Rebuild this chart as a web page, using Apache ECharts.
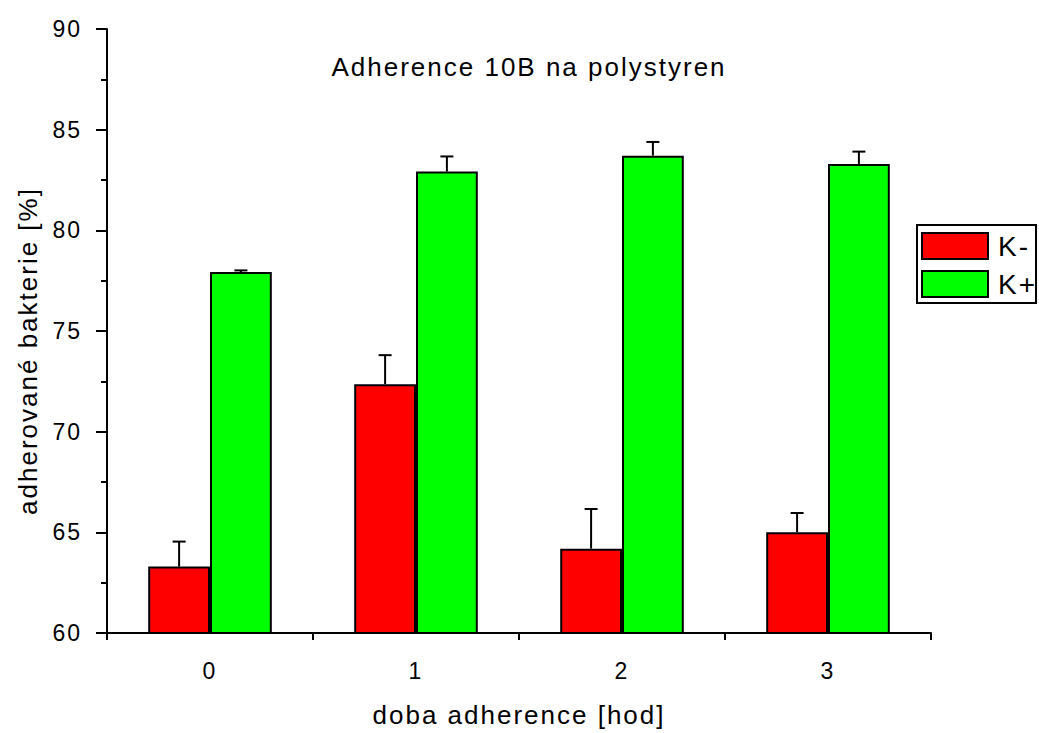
<!DOCTYPE html>
<html>
<head>
<meta charset="utf-8">
<script src="https://cdn.jsdelivr.net/npm/echarts@6/dist/echarts.min.js"></script>
<style>
html,body{margin:0;padding:0;background:#fff;}
#chart{width:1039px;height:733px;}
#chart text{letter-spacing:2px;}
</style>
</head>
<body>
<div id="chart"></div>
<script>
const categories = ['0', '1', '2', '3'];
const kMinus = [63.3, 72.36, 64.19, 65.0];
const kMinusErr = [1.24, 1.44, 1.97, 0.96];
const kPlus = [77.93, 82.92, 83.71, 83.30];
const kPlusErr = [0.08, 0.75, 0.68, 0.61];
const yTicks = { min: 60, max: 90, interval: 5 };
const titleText = 'Adherence 10B na polystyren';
const xName = 'doba adherence [hod]';
const yName = 'adherované bakterie [%]';

const FONT = "'Liberation Sans', Arial, sans-serif";
const BAR_FRAC = 0.30;

function errData(vals, errs) {
  return vals.map((v, i) => [i, v, errs[i]]);
}
function errRender(side) {
  return function (params, api) {
    const i = api.value(0), v = api.value(1), e = api.value(2);
    const band = api.size([1, 0])[0];
    const off = side * band * BAR_FRAC / 2;
    const base = api.coord([i, v]);
    const top = api.coord([i, v + e]);
    const x = base[0] + off;
    const st = { stroke: '#000', lineWidth: 2 };
    return {
      type: 'group',
      children: [
        { type: 'line', shape: { x1: x, y1: base[1], x2: x, y2: top[1] }, style: st },
        { type: 'line', shape: { x1: x - 6.5, y1: top[1], x2: x + 6.5, y2: top[1] }, style: st }
      ]
    };
  };
}

const chart = echarts.init(document.getElementById('chart'), null, { renderer: 'svg' });
chart.setOption({
  backgroundColor: '#fff',
  animation: false,
  textStyle: { fontFamily: FONT, color: '#000' },
  title: {
    text: titleText,
    left: 524,
    top: 49,
    textAlign: 'center',
    textStyle: { fontFamily: FONT, fontSize: 26, fontWeight: 'normal', color: '#000' }
  },
  legend: {
    orient: 'vertical',
    left: 917,
    top: 225,
    padding: [7, 3, 5, 4],
    icon: 'rect',
    itemWidth: 66,
    itemHeight: 26,
    itemGap: 10,
    borderColor: '#000',
    borderWidth: 2,
    data: ['K-', 'K+'],
    textStyle: { fontFamily: FONT, fontSize: 28, color: '#000', padding: [0, 0, 0, 5] }
  },
  grid: { left: 107, right: 108, top: 29, bottom: 99, containLabel: false },
  xAxis: [
    {
      type: 'category',
      data: categories,
      boundaryGap: true,
      name: xName,
      nameLocation: 'middle',
      nameGap: 69,
      nameTextStyle: { fontFamily: FONT, fontSize: 26, color: '#000' },
      axisLine: { lineStyle: { color: '#000', width: 2 } },
      axisTick: { alignWithLabel: true, length: 13, lineStyle: { color: '#000', width: 2 } },
      axisLabel: { fontFamily: FONT, fontSize: 23, color: '#000', margin: 26 },
      splitLine: { show: false }
    },
    {
      type: 'value',
      position: 'bottom',
      min: 0,
      max: categories.length,
      interval: 1,
      axisLine: { show: false },
      axisTick: { show: true, length: 7, lineStyle: { color: '#000', width: 2 } },
      axisLabel: { show: false },
      splitLine: { show: false }
    }
  ],
  yAxis: {
    type: 'value',
    min: yTicks.min,
    max: yTicks.max,
    interval: yTicks.interval,
    name: yName,
    nameLocation: 'middle',
    nameGap: 66,
    nameTextStyle: { fontFamily: FONT, fontSize: 26, color: '#000', padding: [0, 40, 0, 0] },
    axisLine: { show: true, lineStyle: { color: '#000', width: 2 } },
    axisTick: { show: true, length: 11, lineStyle: { color: '#000', width: 2 } },
    minorTick: { show: true, splitNumber: 2, length: 6, lineStyle: { color: '#000', width: 2 } },
    axisLabel: { fontFamily: FONT, fontSize: 23, color: '#000', margin: 25 },
    splitLine: { show: false }
  },
  series: [
    {
      name: 'K-',
      type: 'bar',
      data: kMinus,
      barWidth: (BAR_FRAC * 100) + '%',
      barGap: '0%',
      itemStyle: { color: '#ff0000', borderColor: '#000', borderWidth: 2 }
    },
    {
      name: 'K+',
      type: 'bar',
      data: kPlus,
      barWidth: (BAR_FRAC * 100) + '%',
      barGap: '0%',
      itemStyle: { color: '#00ff00', borderColor: '#000', borderWidth: 2 }
    },
    {
      name: 'K- err',
      type: 'custom',
      data: errData(kMinus, kMinusErr),
      encode: { x: 0, y: 1 },
      renderItem: errRender(-1),
      z: 5,
      silent: true
    },
    {
      name: 'K+ err',
      type: 'custom',
      data: errData(kPlus, kPlusErr),
      encode: { x: 0, y: 1 },
      renderItem: errRender(1),
      z: 5,
      silent: true
    }
  ]
});
</script>
</body>
</html>
